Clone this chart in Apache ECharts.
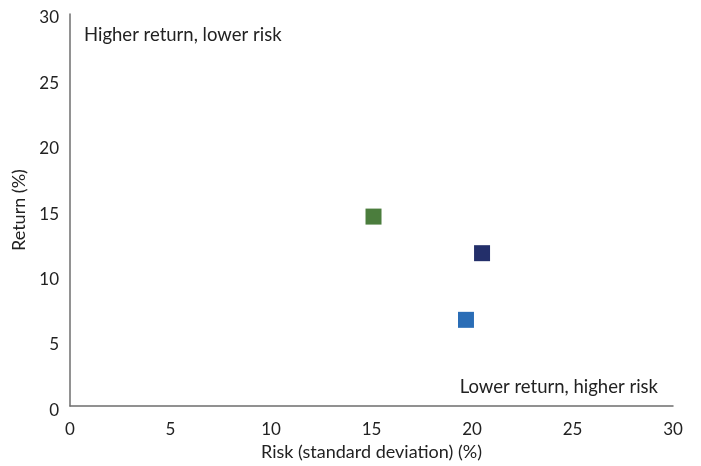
<!DOCTYPE html>
<html>
<head>
<meta charset="utf-8">
<script src="https://cdn.jsdelivr.net/npm/echarts@6/dist/echarts.min.js"></script>
<style>
  html, body { margin: 0; padding: 0; background: #fff; }
  #chart { width: 701px; height: 466px; }
</style>
</head>
<body>
<div id="chart"></div>
<script>
// Risk / return of three portfolios
const portfolioNames = ['Portfolio A', 'Portfolio B', 'Portfolio C'];
const riskValues = [15.1, 20.5, 19.7];
const returnValues = [14.5, 11.7, 6.6];
const portfolioColors = ['#4b7d3d', '#232f6a', '#2a6db6'];
const xTicks = [0, 5, 10, 15, 20, 25, 30];
const yTicks = [0, 5, 10, 15, 20, 25, 30];

const font = 'Lato, "Open Sans", sans-serif';
const chart = echarts.init(document.getElementById('chart'));

const series = portfolioNames.map((name, i) => ({
  name: name,
  type: 'scatter',
  symbol: 'rect',
  symbolSize: 16,
  itemStyle: { color: portfolioColors[i], opacity: 1 },
  emphasis: { disabled: true },
  data: [[riskValues[i], returnValues[i]]]
}));

chart.setOption({
  animation: false,
  grid: { left: 70, right: 28, top: 14, bottom: 59 },
  xAxis: {
    type: 'value',
    min: xTicks[0],
    max: xTicks[xTicks.length - 1],
    interval: 5,
    name: 'Risk (standard deviation) (%)',
    nameLocation: 'middle',
    nameGap: 36,
    nameTextStyle: { fontFamily: font, fontSize: 18, color: '#222' },
    axisLine: { lineStyle: { color: '#6e6e6e', width: 1.5 } },
    axisTick: { show: false },
    splitLine: { show: false },
    axisLabel: { fontFamily: font, fontSize: 17, color: '#222', margin: 15 }
  },
  yAxis: {
    type: 'value',
    min: yTicks[0],
    max: yTicks[yTicks.length - 1],
    interval: 5,
    name: 'Return (%)',
    nameLocation: 'middle',
    nameGap: 41,
    nameTextStyle: { fontFamily: font, fontSize: 18, color: '#222' },
    axisLine: { show: true, lineStyle: { color: '#6e6e6e', width: 1.5 } },
    axisTick: { show: false },
    splitLine: { show: false },
    axisLabel: {
      fontFamily: font, fontSize: 17, color: '#222', margin: 11,
      verticalAlign: 'top', lineHeight: 8
    }
  },
  graphic: [
    {
      type: 'text', left: 84, top: 26,
      style: { text: 'Higher return, lower risk', font: '18.5px ' + font, fill: '#222' }
    },
    {
      type: 'text', right: 43, top: 378,
      style: { text: 'Lower return, higher risk', font: '18.5px ' + font, fill: '#222' }
    }
  ],
  series: series
});
</script>
</body>
</html>
